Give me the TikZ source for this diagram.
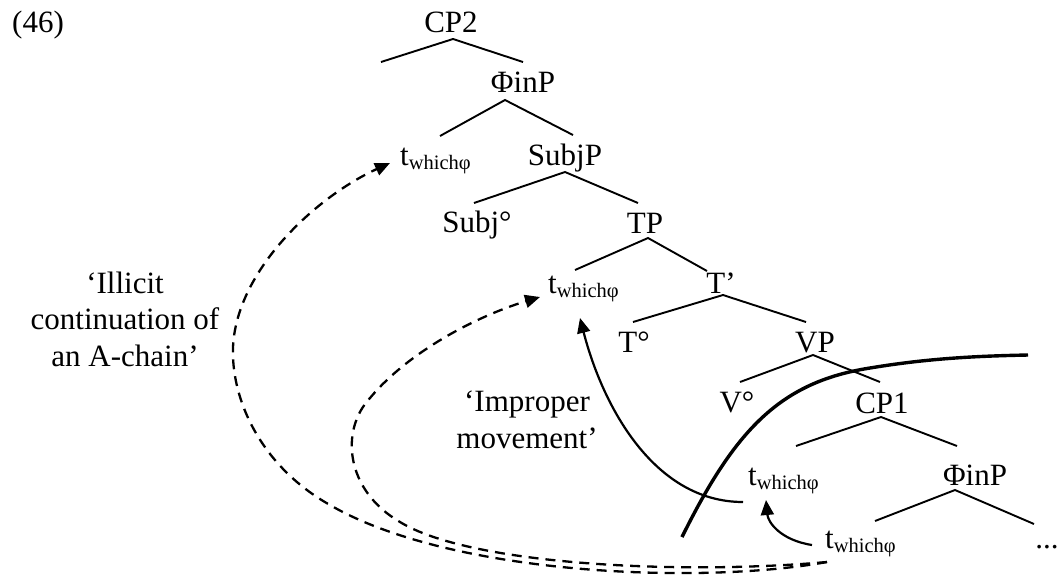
\documentclass[tikz,border=0pt]{standalone}
\usepackage{fontspec}
\setmainfont{Liberation Serif}
\usetikzlibrary{arrows.meta}
\newcommand\twh{t\raisebox{-4pt}{\fontsize{20.5}{24}\selectfont whichφ}}
\tikzset{
  lab/.style={inner sep=0pt, anchor=base, font=\fontsize{31}{36.5}\selectfont},
  labw/.style={lab, anchor=base west},
  branch/.style={line width=1.9pt},
  mvdash/.style={line width=2.3pt, dash pattern=on 10pt off 7pt, -{Triangle[length=15pt,width=13pt]}},
  mvsolid/.style={line width=2.2pt, -{Triangle[length=15pt,width=13pt]}},
  boundary/.style={line width=3.4pt}
}
\begin{document}
\begin{tikzpicture}[x=1pt,y=-1pt]
\useasboundingbox (0,0) rectangle (1060,582);
% labels
\node[labw] (ex) at (12,32) {(46)};
\node[lab] (cp2) at (451,32) {CP2};
\node[lab] (finp1) at (523,92) {ΦinP};
\node[labw] (t1) at (400,165) {\twh};
\node[lab] (subjp) at (565,165) {SubjP};
\node[lab] (subj) at (477,232) {Subj°};
\node[lab] (tp) at (645,233) {TP};
\node[labw] (t2) at (548,293) {\twh};
\node[lab] (tbar) at (721,293) {T’};
\node[lab] (thead) at (634,352) {T°};
\node[lab] (vp) at (815,352) {VP};
\node[lab] (vhead) at (737,412) {V°};
\node[lab] (cp1) at (882,413) {CP1};
\node[labw] (t3) at (748,485) {\twh};
\node[lab] (finp2) at (975,485) {ΦinP};
\node[labw] (t4) at (825,548) {\twh};
\node[lab] (dots) at (1047,548) {...};
\node[lab, align=center] (illicit) at (125,366) {‘Illicit\\continuation of\\an A-chain’};
\node[lab, align=center] (improper) at (527,448) {‘Improper\\movement’};
% branch coordinates
\coordinate (a1) at (453,39); \coordinate (a1l) at (381,62); \coordinate (a1r) at (523,62);
\coordinate (a2) at (505,100); \coordinate (a2l) at (440,136); \coordinate (a2r) at (573,135);
\coordinate (a3) at (565,172); \coordinate (a3l) at (474,203); \coordinate (a3r) at (638,203);
\coordinate (a4) at (648,238); \coordinate (a4l) at (575,270); \coordinate (a4r) at (707,271);
\coordinate (a5) at (723,295); \coordinate (a5l) at (633,322); \coordinate (a5r) at (806,322);
\coordinate (a6) at (813,355); \coordinate (a6l) at (740,382); \coordinate (a6r) at (880,382);
\coordinate (a7) at (881,417); \coordinate (a7l) at (796,446); \coordinate (a7r) at (957,446);
\coordinate (a8) at (955,490); \coordinate (a8l) at (875,521); \coordinate (a8r) at (1034,524);
\foreach \i in {1,...,8} {\draw[branch] (a\i l) -- (a\i) -- (a\i r);}
% movement arrows
\coordinate (d0) at (827,562);
\coordinate (d1) at (390,163);
\coordinate (d2) at (540,297);
\draw[mvdash] (d0) .. controls (700,585) and (450,575) .. (330,505)
  .. controls (250,460) and (225,380) .. (235,330)
  .. controls (248,260) and (320,195) .. (d1);
\draw[mvdash] (d0) .. controls (680,575) and (470,565) .. (400,522)
  .. controls (345,490) and (340,430) .. (370,398)
  .. controls (410,350) and (480,315) .. (d2);
\coordinate (m0) at (743,502);
\coordinate (m1) at (580,318);
\draw[mvsolid] (m0) .. controls (653,502) and (602,404) .. (m1);
\coordinate (s0) at (812,545);
\coordinate (s1) at (766,500);
\draw[mvsolid] (s0) .. controls (780,540) and (768,522) .. (s1);
\coordinate (b0) at (682,537);
\coordinate (b1) at (1028,355);
\draw[boundary] (b0) .. controls (735,430) and (780,382) .. (870,368)
  .. controls (930,358) and (980,356) .. (b1);
\end{tikzpicture}
\end{document}
